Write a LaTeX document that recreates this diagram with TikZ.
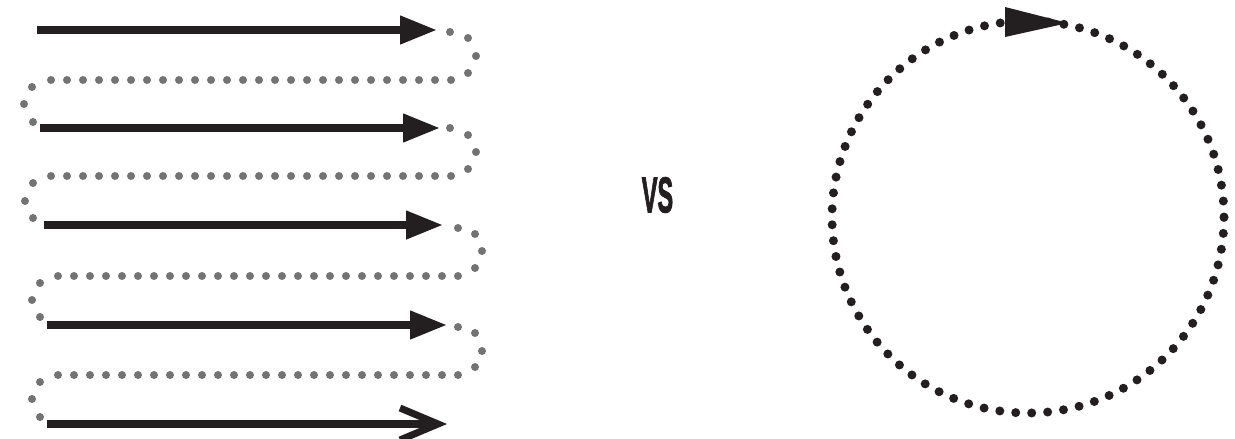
\documentclass[tikz,border=0pt]{standalone}
\usepackage{fontspec}
\setmainfont{Liberation Sans}
\newfontfamily\vsfont[FakeBold=2.5]{Liberation Sans Bold}
\usetikzlibrary{arrows.meta,calc}
\definecolor{dotgray}{HTML}{737376}
\definecolor{ink}{HTML}{231F20}
\begin{document}
\begin{tikzpicture}[x=1pt,y=-1pt,
  shaft/.style={ink,line width=7.5pt,-{Triangle[length=37pt,width=27pt]}},
  gdot/.style={fill=dotgray},
  cdots/.style={ink,line width=9pt,line cap=round,dash pattern=on 0pt off 15.99pt}]
\useasboundingbox (0,0) rectangle (1235,439);
% arrow end points
\coordinate (s1) at (37,30);  \coordinate (e1) at (437,30);
\coordinate (s2) at (40,128); \coordinate (e2) at (440,128);
\coordinate (s3) at (44,225); \coordinate (e3) at (443,225);
\coordinate (s4) at (47,325); \coordinate (e4) at (447,325);
\coordinate (s5) at (47,424); \coordinate (e5) at (438,424);
\draw[shaft] (s1) -- (e1);
\draw[shaft] (s2) -- (e2);
\draw[shaft] (s3) -- (e3);
\draw[shaft] (s4) -- (e4);
\draw[ink,line width=7.5pt] (s5) -- (e5);
\draw[ink,line width=7pt,miter limit=10] ($(e5)+(-38,-16)$) -- (e5) -- ($(e5)+(-38,16)$);
% gray dotted serpentine
\foreach \p in {(450,32),(468,38),(476,56),(468,73),
                (32,87),(24,104),(33,122),
                (450,128),(468,135),(476,152),(468,169),
                (33,183),(25,201),(33,218),
                (458,228),(475,234),(482,251),(475,268),
                (40,283),(32,300),(40,317),
                (458,327),(475,333),(482,351),(475,367),
                (40,382),(32,399),(40,417)}
  \fill[gdot] \p circle (4pt);
\foreach \i in {0,...,25} {
  \fill[gdot] ({451-16*\i},80) circle (4pt);
  \fill[gdot] ({451-16*\i},176) circle (4pt);
  \fill[gdot] ({458-16*\i},276) circle (4pt);
  \fill[gdot] ({458-16*\i},375) circle (4pt);
}
% VS
\node[inner sep=0pt,text=ink] (vs) at (657.5,195) {\scalebox{0.47}[1]{\fontsize{50}{50}\vsfont VS}};
% dotted circle
\coordinate (cc) at (1028,217);
\draw[cdots] (cc) circle (196pt);
\fill[ink] (1005,7) -- (1068,23) -- (1005,37) -- cycle;
\end{tikzpicture}
\end{document}
